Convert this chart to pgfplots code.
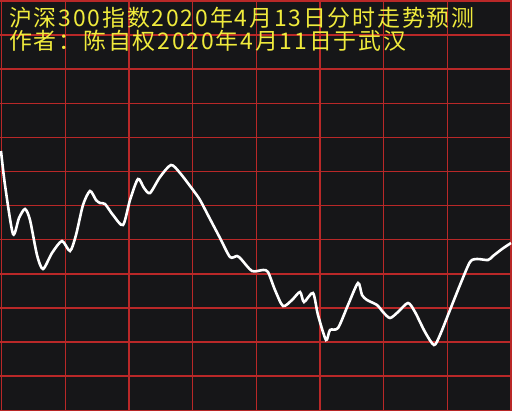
\documentclass[border=0pt]{standalone}
\usepackage{pgfplots}
\pgfplotsset{compat=1.18}
\usepackage{fontspec}
\setmainfont{Liberation Serif}
\newfontfamily\cjk[LetterSpace=8]{Noto Sans CJK SC}
\definecolor{bg}{RGB}{22,22,24}
\definecolor{gridred}{RGB}{185,40,40}
\definecolor{titleyellow}{RGB}{240,235,60}
\begin{document}
\begin{tikzpicture}
\begin{axis}[
    name=ax,
    width=512bp, height=411bp,
    scale only axis,
    xmin=0, xmax=512,
    ymin=0, ymax=411,
    y dir=reverse,
    axis background/.style={fill=bg},
    axis line style={draw=none},
    xtick={1.5,65.2,128.9,192.6,256.3,320,383.7,447.4,511.1},
    ytick={1,35.1,69.2,103.3,137.4,171.5,205.6,239.7,273.8,307.9,342,376.1,410.2},
    xticklabels={}, yticklabels={},
    major tick length=0pt,
    grid=major,
    every axis grid/.style={draw=gridred, line width=1.4bp},
    grid style={draw=gridred, line width=1.4bp},
    major grid style={draw=gridred, line width=1.4bp},
    clip=false,
]
% intraday forecast curve (pixel coordinates)
\addplot[white, line width=2.6bp, smooth, tension=0.45] coordinates {
    (1,151) (5,185) (13,234) (19,218) (25,209) (30,220) (37,255) (43,269)
    (52,253) (62,241) (70,251) (76,235) (83,205) (90,191) (96,200) (100,203)
    (105,204) (113,215) (123,225) (130,200) (138,179) (144,188) (150,193)
    (160,177) (171,165) (180,173) (193,190) (200,200) (210,219) (220,238)
    (230,257) (237,256) (241,259) (252,271) (263,270) (268,272) (275,290)
    (283,306) (292,300) (300,292) (304,302) (313,293) (318,315) (326,340)
    (330,330) (338,328) (348,305) (358,283) (362,295) (367,300) (377,305)
    (383,312) (390,318) (398,312) (408,303) (415,312) (425,332) (434,345)
    (440,335) (450,310) (460,285) (470,262) (477,259) (488,260) (493,256)
    (502,249) (511,243)
};
\node[anchor=base west, inner sep=0pt, text=titleyellow, font=\cjk\fontsize{23}{25}\selectfont]
    at (axis cs:9,27) {沪深300指数2020年4月13日分时走势预测};
\node[anchor=base west, inner sep=0pt, text=titleyellow, font=\cjk\fontsize{23}{25}\selectfont]
    at (axis cs:9,50) {作者：陈自权2020年4月11日于武汉};
\end{axis}
\pgfresetboundingbox
\path (ax.south west) rectangle (ax.north east);
\end{tikzpicture}
\end{document}
